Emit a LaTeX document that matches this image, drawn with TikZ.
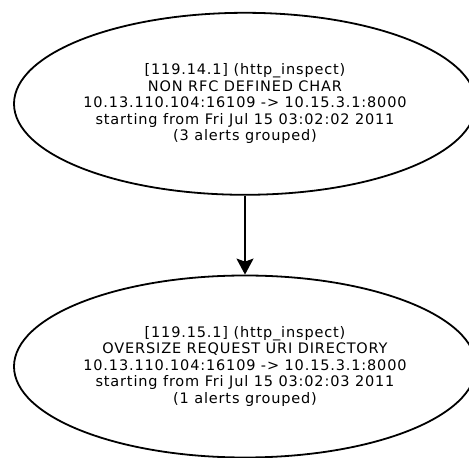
\documentclass[tikz,border=0pt]{standalone}
\usepackage{fontspec}
\usepackage{tikz}
\usetikzlibrary{arrows.meta,shapes.geometric,positioning}
\newfontfamily\alertfamily{DejaVu Sans}[LetterSpace=5.8]
\newcommand{\alertfont}{\alertfamily\fontsize{14.5}{16.5}\selectfont}
\tikzset{
  alertnode/.style={ellipse,draw=drawColor,line width=1.8pt,minimum width=462pt,minimum height=182pt,inner xsep=-50pt,inner ysep=0pt,align=center,font=\alertfont,text=drawColor},
  groupedge/.style={draw=drawColor,line width=1.8pt,-{Stealth[length=16pt,width=17pt,inset=3pt]}}
}
\begin{document}
\begin{tikzpicture}[x=1pt,y=1pt]
\definecolor{fillColor}{RGB}{255,255,255}
\definecolor{drawColor}{RGB}{0,0,0}
\path[use as bounding box,fill=fillColor] (0,0) rectangle (469,458);
\begin{scope}
\path[clip] (  0.00,  0.00) rectangle (469,458);

\node[alertnode] (alertA) at (245.00,354.20) {[119.14.1] (http\_inspect)\\NON RFC DEFINED CHAR\\10.13.110.104:16109 -> 10.15.3.1:8000\\starting from Fri Jul 15 03:02:02 2011\\(3 alerts grouped)};

\node[alertnode] (alertB) at (245.00, 91.50) {[119.15.1] (http\_inspect)\\OVERSIZE REQUEST URI DIRECTORY\\10.13.110.104:16109 -> 10.15.3.1:8000\\starting from Fri Jul 15 03:02:03 2011\\(1 alerts grouped)};

\path[groupedge] (alertA.south) -- (alertB.north);
\end{scope}
\end{tikzpicture}
\end{document}
